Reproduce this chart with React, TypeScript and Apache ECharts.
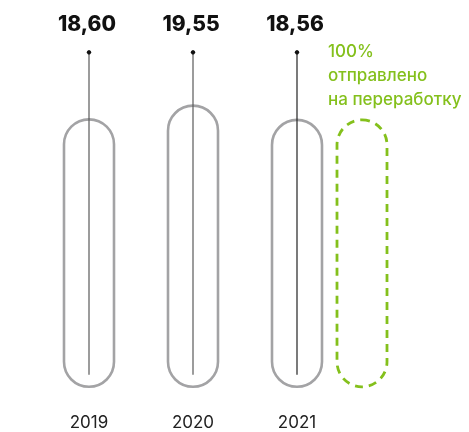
import React, { useEffect, useRef } from "react";
import * as echarts from "echarts";

const years = ["2019", "2020", "2021"];
const values = [18.6, 19.55, 18.56];
const valueLabels = ["18,60", "19,55", "18,56"];
const recycledLines = ["100%", "отправлено", "на переработку"];
const recycledIndex = 2;

export default function App() {
  const ref = useRef<HTMLDivElement>(null);
  useEffect(() => {
    document.body.style.margin = "0";
    const chart = echarts.init(ref.current!, null, { renderer: "svg" });
    const capW = 50;
    const renderCapsule = (params: any, api: any) => {
      const idx = params.dataIndex;
      const top = api.coord([api.value(0), api.value(1)]);
      const base = api.coord([api.value(0), 0]);
      const cx = top[0];
      const gridTop = params.coordSys.y;
      const h = base[1] - top[1];
      return {
        type: "group",
        children: [
          {
            type: "rect",
            shape: { x: cx - capW / 2, y: top[1], width: capW, height: h, r: capW / 2 },
            style: { fill: "none", stroke: "#a3a3a5", lineWidth: 2.6 },
          },
          {
            type: "line",
            shape: { x1: cx, y1: gridTop + 25, x2: cx, y2: base[1] - 12 },
            style: { stroke: idx === 2 ? "#222" : "#5a5a5a", lineWidth: 1.2 },
          },
          {
            type: "circle",
            shape: { cx: cx, cy: gridTop + 25, r: 2.2 },
            style: { fill: "#111" },
          },
          {
            type: "text",
            style: {
              x: cx - 2,
              y: gridTop - 4,
              text: valueLabels[idx],
              fill: "#111",
              font: "800 21px Inter, 'DejaVu Sans', sans-serif",
              align: "center",
              verticalAlign: "middle",
            },
          },
        ],
      };
    };
    const renderRecycled = (params: any, api: any) => {
      const top = api.coord([api.value(0), api.value(1)]);
      const base = api.coord([api.value(0), 0]);
      const cx = top[0] + 65;
      const h = base[1] - top[1];
      return {
        type: "group",
        children: [
          {
            type: "rect",
            shape: { x: cx - capW / 2, y: top[1], width: capW, height: h, r: capW / 2 },
            style: { fill: "none", stroke: "#84c01c", lineWidth: 2.8, lineDash: [8, 6] },
          },
          ...recycledLines.map((t, i) => ({
            type: "text",
            style: {
              x: cx - 34,
              y: params.coordSys.y + 24 + i * 24,
              text: t,
              fill: "#84c01c",
              font: "500 17px Inter, 'DejaVu Sans', sans-serif",
              align: "left",
              verticalAlign: "middle",
            },
          })),
        ],
      };
    };
    chart.setOption({
      animation: false,
      grid: { left: 37, right: 120, top: 27.3, bottom: 45.2 },
      xAxis: {
        type: "category",
        data: years,
        axisLine: { show: false },
        axisTick: { show: false },
        axisLabel: {
          margin: 27,
          fontSize: 17,
          color: "#222",
          fontFamily: "Inter, 'DejaVu Sans', sans-serif",
        },
      },
      yAxis: { type: "value", min: 0, max: 25, show: false, splitLine: { show: false } },
      series: [
        {
          type: "custom",
          renderItem: renderCapsule,
          data: values.map((v, i) => [i, v]),
        },
        {
          type: "custom",
          renderItem: renderRecycled,
          data: [[recycledIndex, values[recycledIndex]]],
        },
      ],
    });
    return () => chart.dispose();
  }, []);
  return <div ref={ref} style={{ position: "fixed", left: 0, top: 0, width: 469, height: 432 }} />;
}
